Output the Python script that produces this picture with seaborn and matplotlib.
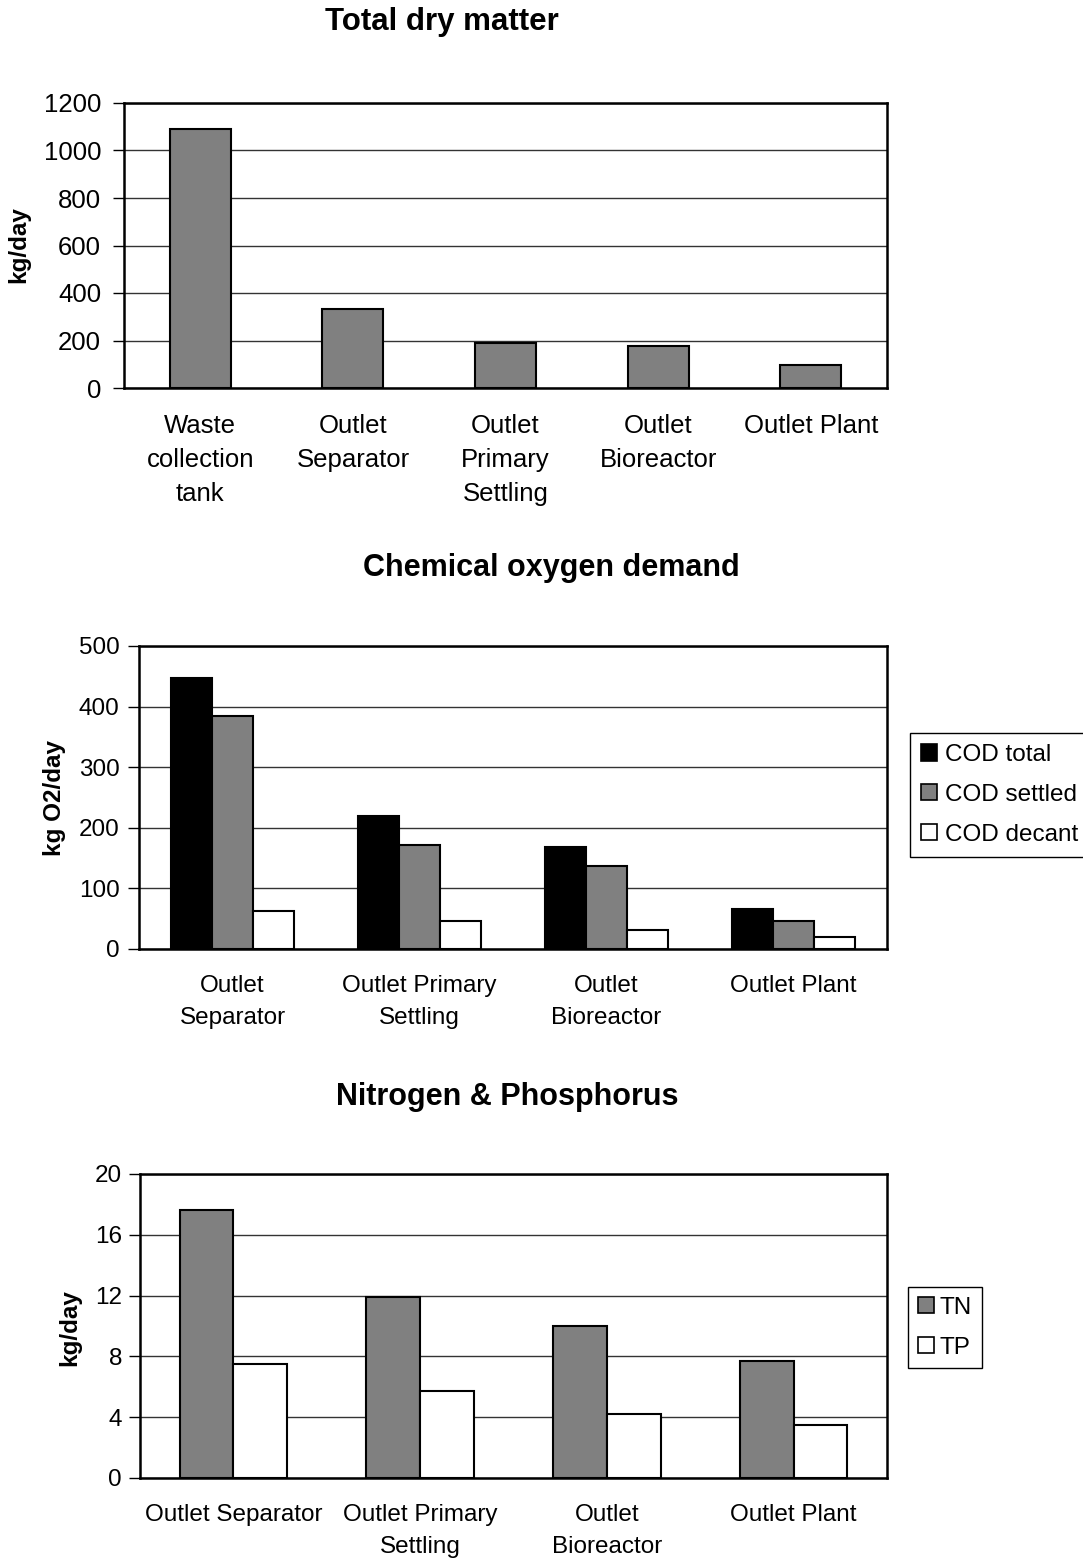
import matplotlib
matplotlib.use("Agg")
import matplotlib.pyplot as plt
from matplotlib.patches import Patch
import numpy as np
import pandas as pd
import seaborn as sns

# ---- data -------------------------------------------------------------
tdm_stations = ["Waste collection tank", "Outlet Separator", "Outlet Primary Settling",
                "Outlet Bioreactor", "Outlet Plant"]
tdm_labels = ["Waste\ncollection\ntank", "Outlet\nSeparator", "Outlet\nPrimary\nSettling",
              "Outlet\nBioreactor", "Outlet Plant"]
tdm_values = [1090, 334, 190, 175, 98]

stations = ["Outlet Separator", "Outlet Primary Settling", "Outlet Bioreactor", "Outlet Plant"]
cod_labels = ["Outlet\nSeparator", "Outlet Primary\nSettling", "Outlet\nBioreactor", "Outlet Plant"]
cod_total = [447, 220, 169, 66]
cod_settled = [384, 171, 137, 47]
cod_decant = [62, 47, 31, 19]
cod_series = ["COD total", "COD settled", "COD decant"]

np_labels = ["Outlet Separator", "Outlet Primary\nSettling", "Outlet\nBioreactor", "Outlet Plant"]
tn_values = [17.6, 11.9, 10.0, 7.7]
tp_values = [7.5, 5.75, 4.2, 3.5]
np_series = ["TN", "TP"]

# ---- style ------------------------------------------------------------
sns.set_style("white")
plt.rcParams["font.family"] = ["Liberation Sans", "DejaVu Sans"]
for key in ("text.color", "axes.labelcolor", "xtick.color", "ytick.color"):
    plt.rcParams[key] = "black"

W, H = 1083, 1560
fig = plt.figure(figsize=(W / 100, H / 100), dpi=100)


def px_axes(left, top, right, bottom):
    return fig.add_axes([left / W, 1 - bottom / H, (right - left) / W, (bottom - top) / H])


def style_axes(ax, n, ymax, ystep, labels, fs, ypad, lsp):
    ax.set_xlim(-0.5, n - 0.5)
    ax.set_ylim(0, ymax)
    ax.set_yticks(np.arange(0, ymax + ystep / 2, ystep))
    ax.yaxis.grid(True, color="#333333", linewidth=1.0)
    ax.set_axisbelow(True)
    for s in ax.spines.values():
        s.set_color("black")
        s.set_linewidth(1.8)
        s.set_visible(True)
    ax.set_xticks(range(n))
    ax.set_xticklabels(labels, fontsize=fs, linespacing=lsp)
    ax.set_xticks(np.arange(-0.5, n, 1.0), minor=True)
    ax.tick_params(axis="x", which="major", length=0, pad=19)
    ax.tick_params(axis="x", which="minor", length=8, width=1, color="black", direction="out")
    ax.tick_params(axis="y", length=8, width=1, color="black", direction="out", pad=ypad,
                   labelsize=fs, left=True)
    ax.set_xlabel("")
    ax.set_ylabel("")


# ---- Total dry matter ---------------------------------------------------
ax1 = px_axes(124, 103, 887, 388)
sns.barplot(x=tdm_stations, y=tdm_values, color="#808080", saturation=1,
            edgecolor="black", linewidth=1.5, width=0.4, ax=ax1)
style_axes(ax1, 5, 1200, 200, tdm_labels, 18.5, 8.5, 1.51)
fig.text(442 / W, 1 - 22 / H, "Total dry matter", ha="center", va="center",
         fontsize=22.5, fontweight="bold")
fig.text(19 / W, 1 - 245 / H, "kg/day", rotation=90, ha="center", va="center",
         fontsize=17.5, fontweight="bold")

# ---- Chemical oxygen demand ---------------------------------------------
cod_df = pd.DataFrame({
    "station": stations * 3,
    "series": np.repeat(cod_series, len(stations)),
    "value": cod_total + cod_settled + cod_decant,
})
cod_colors = ["black", "#808080", "white"]
ax2 = px_axes(139, 646, 887, 949)
sns.barplot(data=cod_df, x="station", y="value", hue="series", hue_order=cod_series,
            palette=cod_colors, saturation=1, edgecolor="black", linewidth=1.5,
            width=0.66, gap=0, legend=False, ax=ax2)
style_axes(ax2, 4, 500, 100, cod_labels, 17.5, 6, 1.54)
fig.text(551 / W, 1 - 568 / H, "Chemical oxygen demand", ha="center", va="center",
         fontsize=22, fontweight="bold")
fig.text(54 / W, 1 - 798 / H, "kg O2/day", rotation=90, ha="center", va="center",
         fontsize=17.5, fontweight="bold")
h2 = [Patch(facecolor=c, edgecolor="black", linewidth=1.2) for c in cod_colors]
fig.legend(h2, cod_series, loc="upper left", bbox_to_anchor=(910 / W, 1 - 733 / H),
           fontsize=17.5, frameon=True, fancybox=False, edgecolor="black", framealpha=1,
           handlelength=0.65, handleheight=0.65, handletextpad=0.35, labelspacing=0.74,
           borderpad=0.45, borderaxespad=0)

# ---- Nitrogen & Phosphorus ---------------------------------------------
np_df = pd.DataFrame({
    "station": stations * 2,
    "series": np.repeat(np_series, len(stations)),
    "value": tn_values + tp_values,
})
np_colors = ["#808080", "white"]
ax3 = px_axes(140, 1174, 887, 1478)
sns.barplot(data=np_df, x="station", y="value", hue="series", hue_order=np_series,
            palette=np_colors, saturation=1, edgecolor="black", linewidth=1.5,
            width=0.575, gap=0, legend=False, ax=ax3)
style_axes(ax3, 4, 20, 4, np_labels, 17.5, 5, 1.54)
fig.text(507 / W, 1 - 1097 / H, "Nitrogen & Phosphorus", ha="center", va="center",
         fontsize=22, fontweight="bold")
fig.text(70 / W, 1 - 1328 / H, "kg/day", rotation=90, ha="center", va="center",
         fontsize=17.5, fontweight="bold")
h3 = [Patch(facecolor=c, edgecolor="black", linewidth=1.2) for c in np_colors]
fig.legend(h3, np_series, loc="upper left", bbox_to_anchor=(908 / W, 1 - 1287 / H),
           fontsize=17.5, frameon=True, fancybox=False, edgecolor="black", framealpha=1,
           handlelength=0.65, handleheight=0.65, handletextpad=0.25, labelspacing=0.74,
           borderpad=0.4, borderaxespad=0)

fig.savefig("out.png", dpi=100, facecolor="white")
